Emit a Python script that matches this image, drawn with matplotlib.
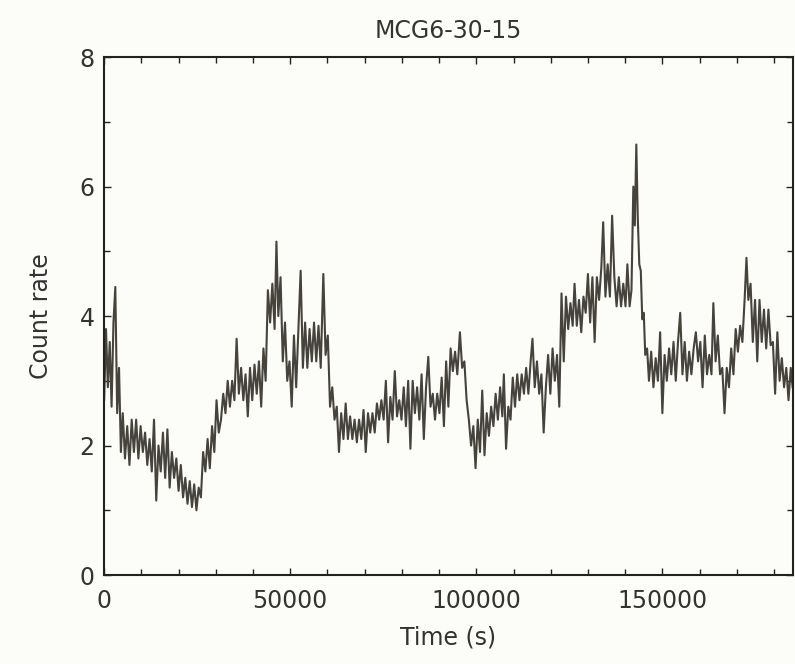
import numpy as np
import matplotlib
matplotlib.use("Agg")
import matplotlib.pyplot as plt
from matplotlib.ticker import MultipleLocator

# light curve: time in ks, count rate
t_ks = [
    0.0, 0.5, 1.0, 1.5, 2.0, 2.5, 3.0, 3.5, 4.0, 4.5,
    5.0, 5.6, 6.2, 6.8, 7.4, 8.0, 8.6, 9.2, 9.8, 10.4,
    11.0, 11.6, 12.2, 12.8, 13.4, 14.0, 14.6, 15.2, 15.8, 16.4,
    17.0, 17.6, 18.2, 18.8, 19.4, 20.0, 20.6, 21.2, 21.8, 22.4,
    23.0, 23.6, 24.2, 24.8, 25.4, 26.0, 26.6, 27.2, 27.8, 28.4,
    29.0, 29.6, 30.2, 30.8,
    31.4, 32.0, 32.6, 33.2, 33.8, 34.4, 35.0, 35.6, 36.2, 36.8,
    37.4, 38.0, 38.6, 39.2, 39.8, 40.4, 41.0, 41.6, 42.2, 42.8,
    43.4, 44.0, 44.6, 45.2, 45.8, 46.3, 46.8, 47.4, 48.0, 48.6,
    49.2, 49.8, 50.4, 51.0, 51.6, 52.2, 52.8, 53.4, 54.0, 54.6,
    55.2, 55.8, 56.4, 57.0, 57.6, 58.2, 58.9, 59.5, 60.1, 60.7,
    61.3, 61.9,
    62.5, 63.1, 63.7, 64.3, 64.9, 65.5, 66.1, 66.7, 67.3, 67.9,
    68.5, 69.1, 69.7, 70.3, 70.9, 71.5, 72.1, 72.7, 73.3, 73.9,
    74.5, 75.1, 75.7, 76.3, 76.9, 77.5, 78.1, 78.7, 79.3, 79.9,
    80.5, 81.1, 81.7, 82.3, 82.9, 83.5, 84.1, 84.7, 85.3, 85.9,
    86.5, 87.1, 87.7, 88.3, 88.9, 89.5, 90.1, 90.7, 91.3, 91.9,
    92.5,
    93.1, 93.7, 94.3, 94.9, 95.6, 96.2, 96.8, 97.4, 98.0, 98.6,
    99.2, 99.8, 100.4, 101.0, 101.6, 102.2, 102.8, 103.4, 104.0, 104.6,
    105.2, 105.8, 106.4, 107.0, 107.4, 108.0, 108.6, 109.2, 109.8, 110.4,
    111.0, 111.6, 112.2, 112.8, 113.4, 114.0, 114.6, 115.1, 115.7, 116.3,
    116.9, 117.5, 118.1, 118.7, 119.3, 119.9, 120.5, 121.1, 121.7, 122.3,
    122.9, 123.5,
    124.1, 124.7, 125.3, 125.9, 126.4, 127.0, 127.6, 128.2, 128.8, 129.4,
    130.0, 130.6, 131.2, 131.8, 132.4, 133.0, 133.6, 134.1, 134.7, 135.3,
    135.9, 136.5, 137.1, 137.7, 138.3, 138.9, 139.5, 140.1, 140.6, 141.2,
    141.7, 142.2, 142.6, 143.0, 143.4, 143.8, 144.2, 144.6, 145.0, 145.4,
    145.9, 146.4, 147.0, 147.6, 148.2, 148.8, 149.4, 150.0, 150.6, 151.2,
    151.8, 152.4, 153.0, 153.6,
    154.2, 154.8, 155.4, 156.0, 156.6, 157.2, 157.8, 158.4, 159.0, 159.6,
    160.2, 160.8, 161.4, 162.0, 162.6, 163.2, 163.7, 164.3, 164.9, 165.5,
    166.1, 166.7, 167.3, 167.9, 168.5, 169.1, 169.7, 170.3, 170.9, 171.5,
    172.1, 172.6, 173.1, 173.7, 174.3, 174.9, 175.5, 176.1, 176.7, 177.3,
    177.9, 178.5, 179.1, 179.7, 180.3, 180.9, 181.5, 182.1, 182.7, 183.3,
    183.9, 184.5, 185.0,
]
rate = [
    2.7, 3.8, 2.9, 3.6, 2.6, 3.9, 4.45, 2.5, 3.2, 1.9,
    2.5, 1.8, 2.3, 1.7, 2.4, 1.9, 2.4, 1.8, 2.3, 1.9,
    2.2, 1.7, 2.1, 1.6, 2.4, 1.15, 2.0, 1.6, 2.2, 1.5,
    2.25, 1.35, 1.9, 1.5, 1.8, 1.3, 1.7, 1.2, 1.5, 1.1,
    1.45, 1.05, 1.4, 1.0, 1.35, 1.2, 1.9, 1.6, 2.1, 1.65,
    2.3, 1.9, 2.7, 2.2,
    2.4, 2.8, 2.5, 3.0, 2.6, 3.0, 2.7, 3.65, 2.8, 3.2,
    2.7, 3.1, 2.45, 3.2, 2.7, 3.25, 2.8, 3.3, 2.6, 3.5,
    3.0, 4.4, 3.9, 4.5, 3.8, 5.15, 4.0, 4.6, 3.3, 3.9,
    3.0, 3.3, 2.6, 3.7, 2.9, 3.8, 4.7, 3.2, 3.9, 3.2,
    3.8, 3.3, 3.9, 3.3, 3.85, 3.2, 4.65, 3.4, 3.7, 2.6,
    2.9, 2.4,
    2.6, 1.9, 2.5, 2.1, 2.65, 2.1, 2.45, 2.1, 2.4, 2.05,
    2.4, 2.1, 2.55, 1.9, 2.5, 2.2, 2.5, 2.2, 2.65, 2.4,
    2.7, 2.4, 3.0, 2.05, 2.75, 2.4, 3.15, 2.45, 2.7, 2.4,
    2.9, 2.3, 3.0, 1.95, 3.0, 2.5, 2.9, 2.4, 3.1, 2.1,
    2.9, 3.37, 2.6, 2.8, 2.4, 2.8, 2.5, 3.05, 2.3, 3.3,
    2.6,
    3.5, 3.15, 3.45, 3.1, 3.75, 3.2, 3.3, 2.7, 2.4, 2.0,
    2.3, 1.65, 2.4, 1.9, 2.85, 1.85, 2.5, 2.15, 2.6, 2.3,
    2.8, 2.4, 2.9, 2.45, 3.1, 1.95, 2.6, 2.4, 3.05, 2.6,
    3.1, 2.7, 3.1, 2.8, 3.2, 2.8, 3.3, 3.65, 2.9, 3.3,
    2.8, 3.1, 2.2, 2.9, 3.4, 2.8, 3.5, 3.0, 3.4, 2.6,
    4.35, 3.3,
    4.3, 3.8, 4.2, 3.85, 4.5, 3.85, 4.25, 3.75, 4.3, 4.05,
    4.65, 3.9, 4.6, 3.6, 4.6, 4.25, 4.75, 5.45, 4.3, 4.8,
    4.3, 5.55, 4.6, 4.15, 4.6, 4.15, 4.5, 4.15, 4.8, 4.15,
    4.4, 6.0, 5.4, 6.65, 5.5, 4.8, 4.7, 3.95, 4.05, 3.4,
    3.5, 3.0, 3.45, 2.9, 3.35, 3.0, 3.75, 2.5, 3.4, 3.0,
    3.5, 3.1, 3.6, 3.0,
    3.6, 4.05, 3.1, 3.6, 3.0, 3.45, 3.1, 3.5, 3.75, 3.3,
    3.6, 2.9, 3.7, 3.1, 3.4, 3.1, 4.2, 3.3, 3.7, 3.1,
    3.2, 2.5, 3.2, 2.9, 3.5, 3.1, 3.8, 3.45, 3.85, 3.6,
    4.25, 4.9, 4.25, 4.5, 3.6, 4.25, 3.3, 4.25, 3.6, 4.1,
    3.5, 4.1, 3.55, 3.6, 2.8, 3.75, 3.0, 3.35, 2.9, 3.2,
    2.7, 3.2, 2.9,
]

time_s = np.array(t_ks) * 1000.0

plt.rcParams['font.family'] = ['DejaVu Sans']

fig = plt.figure(figsize=(7.95, 6.64), dpi=100, facecolor='#fcfcf8')
ax = fig.add_axes([0.131, 0.134, 0.866, 0.780])
ax.set_facecolor('#fcfcf8')

ax.plot(time_s, rate, color='#45433b', lw=1.5)

ax.set_xlim(0, 185000)
ax.set_ylim(0, 8)
ax.set_xticks([0, 50000, 100000, 150000])
ax.set_yticks([0, 2, 4, 6, 8])
ax.xaxis.set_minor_locator(MultipleLocator(10000))
ax.yaxis.set_minor_locator(MultipleLocator(1))
ax.tick_params(which='both', direction='in', top=True, right=True,
               colors='#222222', width=1.0, labelcolor='#333333')
ax.tick_params(which='major', length=5, labelsize=17)
ax.tick_params(which='minor', length=4)
ax.tick_params(axis='x', pad=10)
ax.tick_params(axis='y', pad=7)
for s in ax.spines.values():
    s.set_linewidth(1.5)
    s.set_color('#222222')

ax.set_xlabel('Time (s)', fontsize=17, color='#333333', labelpad=9)
ax.set_ylabel('Count rate', fontsize=17, color='#333333', labelpad=19)
ax.set_title('MCG6-30-15', fontsize=17, color='#333333', pad=14)

fig.savefig('out.png', dpi=100, facecolor=fig.get_facecolor())
